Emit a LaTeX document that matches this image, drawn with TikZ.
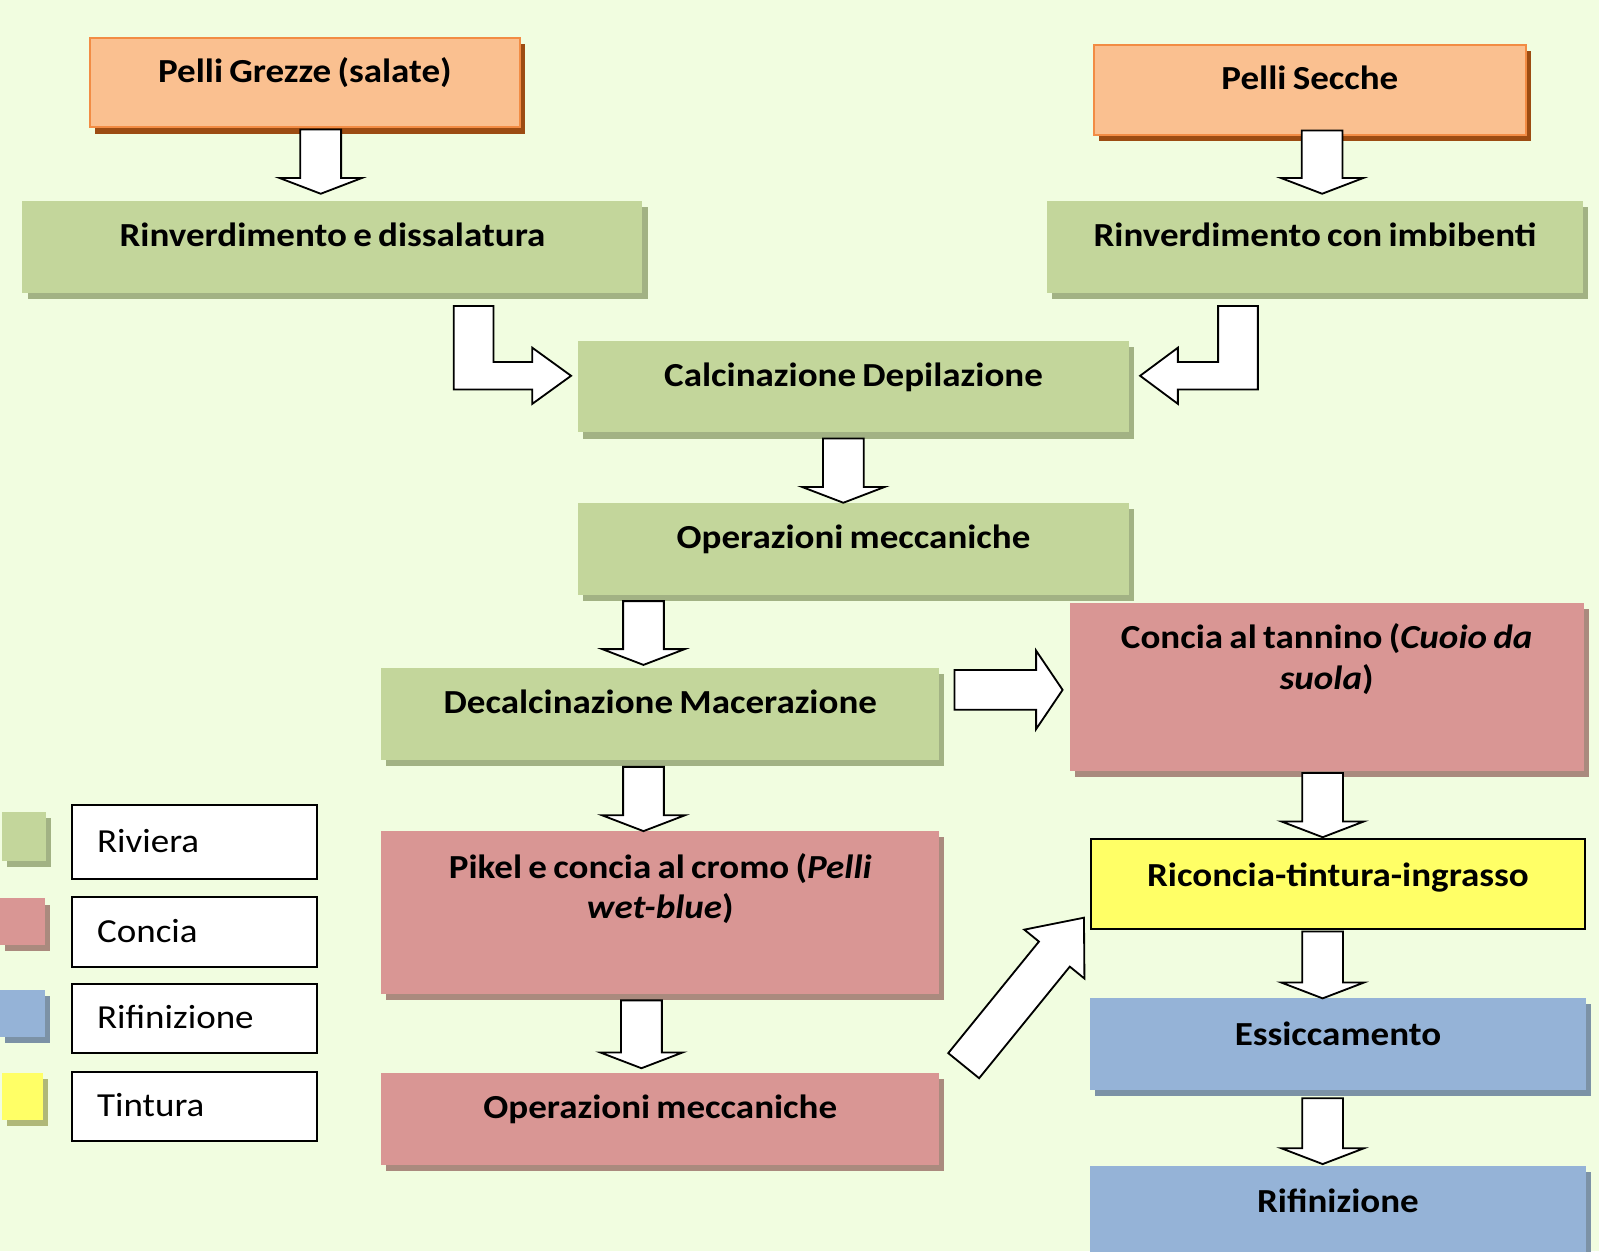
\documentclass[tikz,border=0pt]{standalone}
\usepackage{fontspec}
\setmainfont{Carlito}[FakeStretch=1.1, WordSpace=0.75]
\usetikzlibrary{calc,shadows}
\definecolor{bg}{RGB}{241,253,224}
\definecolor{cgreen}{RGB}{195,214,155}
\definecolor{sgreen}{RGB}{162,178,132}
\definecolor{cpink}{RGB}{217,150,148}
\definecolor{spink}{RGB}{170,138,126}
\definecolor{cblue}{RGB}{149,179,215}
\definecolor{sblue}{RGB}{124,146,166}
\definecolor{corange}{RGB}{250,192,144}
\definecolor{borange}{RGB}{242,140,68}
\definecolor{sorange}{RGB}{156,76,18}
\definecolor{cyellow}{RGB}{255,255,102}
\definecolor{syellow}{RGB}{176,184,120}
\tikzset{
  box/.style={rectangle, inner sep=0pt, outer sep=0pt, anchor=north west},
  greenbox/.style={box, fill=cgreen, general shadow={fill=sgreen, shadow xshift=5pt, shadow yshift=-6pt}},
  pinkbox/.style={box, fill=cpink, general shadow={fill=spink, shadow xshift=5pt, shadow yshift=-6pt}},
  bluebox/.style={box, fill=cblue, general shadow={fill=sblue, shadow xshift=5pt, shadow yshift=-6pt}},
  orangebox/.style={box, fill=corange, draw=borange, line width=2pt, general shadow={fill=sorange, shadow xshift=5pt, shadow yshift=-6pt}},
  yellowbox/.style={box, fill=cyellow, draw=black, line width=2pt},
  yellowsq/.style={box, fill=cyellow, general shadow={fill=syellow, shadow xshift=5pt, shadow yshift=-6pt}},
  legbox/.style={box, fill=white, draw=black, line width=2pt},
  lbl/.style={font=\bfseries\fontsize{33}{40}\selectfont, align=center, anchor=base, inner sep=0pt},
  legtext/.style={font=\fontsize{33}{40}\selectfont, anchor=base west, inner sep=0pt},
  blockarrow/.style={draw=black, fill=white, line width=1.8pt, line join=miter},
}
\newcommand\pbox[6]{\node[#2, minimum width=#5pt, minimum height=#6pt] (#1) at (#3,#4) {};}
\newcommand\dnarrow[5]{%
  \draw[blockarrow]
   ($(#2.south -| #1,0)+(-20,#4)$) --
   ($(#2.south -| #1,0)+(20,#4)$) --
   ($(#3.north -| #1,0)+(20,-#5-15.5)$) --
   ($(#3.north -| #1,0)+(40.5,-#5-15.5)$) --
   ($(#3.north -| #1,0)+(0,-#5)$) --
   ($(#3.north -| #1,0)+(-40.5,-#5-15.5)$) --
   ($(#3.north -| #1,0)+(-20,-#5-15.5)$) -- cycle;}
\begin{document}
\begin{tikzpicture}[x=1pt,y=-1pt]
\useasboundingbox (0,0) rectangle (1568,1227);
\clip (0,0) rectangle (1568,1227);
\fill[bg] (0,0) rectangle (1568,1227);

% process boxes
\pbox{pg}{orangebox}{88}{37}{422}{88}
\pbox{ps}{orangebox}{1073}{44}{423}{88}
\pbox{rd}{greenbox}{22}{197}{608}{90}
\pbox{ri}{greenbox}{1027}{197}{525}{90}
\pbox{cd}{greenbox}{567}{334}{540}{90}
\pbox{om1}{greenbox}{567}{493}{540}{90}
\pbox{dm}{greenbox}{374}{655}{547}{90}
\pbox{ct}{pinkbox}{1049}{591}{504}{165}
\pbox{pk}{pinkbox}{374}{815}{547}{160}
\pbox{om2}{pinkbox}{374}{1052}{547}{90}
\pbox{rc}{yellowbox}{1070}{823}{484}{88}
\pbox{es}{bluebox}{1069}{979}{486}{90}
\pbox{rf}{bluebox}{1069}{1143}{486}{120}

% labels
\node[lbl] (pg-t) at ($(pg.north)+(0,44)$) {Pelli Grezze (salate)};
\node[lbl] (ps-t) at ($(ps.north)+(0,44)$) {Pelli Secche};
\node[lbl] (rd-t) at ($(rd.north)+(0,45)$) {Rinverdimento e dissalatura};
\node[lbl] (ri-t) at ($(ri.north)+(0,45)$) {Rinverdimento con imbibenti};
\node[lbl] (cd-t) at ($(cd.north)+(0,45)$) {Calcinazione Depilazione};
\node[lbl] (om1-t) at ($(om1.north)+(0,45)$) {Operazioni meccaniche};
\node[lbl] (dm-t) at ($(dm.north)+(0,45)$) {Decalcinazione Macerazione};
\node[lbl] (ct-t) at ($(ct.north)+(0,85)$) {Concia al tannino (\textit{Cuoio da}\\\textit{suola})};
\node[lbl] (pk-t) at ($(pk.north)+(0,86)$) {Pikel e concia al cromo (\textit{Pelli}\\\textit{wet-blue})};
\node[lbl] (om2-t) at ($(om2.north)+(0,45)$) {Operazioni meccaniche};
\node[lbl] (rc-t) at ($(rc.north)+(0,46)$) {Riconcia-tintura-ingrasso};
\node[lbl] (es-t) at ($(es.north)+(0,46)$) {Essiccamento};
\node[lbl] (rf-t) at ($(rf.north)+(0,46)$) {Rifinizione};

% legend
\pbox{sq1}{greenbox}{2}{796}{43}{48}
\pbox{sq2}{pinkbox}{0}{881}{44}{46}
\pbox{sq3}{bluebox}{0}{971}{44}{46}
\pbox{sq4}{yellowsq}{2}{1052}{40}{46}
\pbox{lb1}{legbox}{71}{789}{240}{73}
\pbox{lb2}{legbox}{71}{880}{240}{68}
\pbox{lb3}{legbox}{71}{965}{240}{68}
\pbox{lb4}{legbox}{71}{1051}{240}{68}
\node[legtext] (lb1-t) at ($(lb1.west)+(24,10)$) {Riviera};
\node[legtext] (lb2-t) at ($(lb2.west)+(24,10)$) {Concia};
\node[legtext] (lb3-t) at ($(lb3.west)+(24,10)$) {Rifinizione};
\node[legtext] (lb4-t) at ($(lb4.west)+(24,10)$) {Tintura};

% straight down arrows
\dnarrow{314.5}{pg}{rd}{2}{7}
\dnarrow{1296.5}{ps}{ri}{-4}{7}
\dnarrow{827}{cd}{om1}{6}{0}
\dnarrow{631}{om1}{dm}{6.5}{3}
\dnarrow{631}{dm}{pk}{7}{0}
\dnarrow{1297}{ct}{rc}{2}{2}
\dnarrow{1297}{rc}{es}{2.5}{0}
\dnarrow{1297}{es}{rf}{8}{1.5}
\dnarrow{629}{pk}{om2}{6}{4.5}

% elbow arrow left
\coordinate (e1s) at ($(rd.south -| 464.5,0)+(0,13)$);
\coordinate (e1t) at ($(cd.west)+(-7,-10.5)$);
\draw[blockarrow] ($(e1s)+(-19.5,0)$) -- ($(e1s)+(19.5,0)$) -- ($(e1s |- e1t)+(19.5,-13.5)$)
  -- ($(e1t)+(-38,-13.5)$) -- ($(e1t)+(-38,-27.5)$) -- (e1t) -- ($(e1t)+(-38,27.5)$)
  -- ($(e1t)+(-38,13.5)$) -- ($(e1s |- e1t)+(-19.5,13.5)$) -- cycle;

% elbow arrow right
\coordinate (e2s) at ($(ri.south -| 1214,0)+(0,13)$);
\coordinate (e2t) at ($(cd.east)+(11,-10.5)$);
\draw[blockarrow] ($(e2s)+(19.5,0)$) -- ($(e2s)+(-19.5,0)$) -- ($(e2s |- e2t)+(-19.5,-13.5)$)
  -- ($(e2t)+(37,-13.5)$) -- ($(e2t)+(37,-27.5)$) -- (e2t) -- ($(e2t)+(37,27.5)$)
  -- ($(e2t)+(37,13.5)$) -- ($(e2s |- e2t)+(19.5,13.5)$) -- cycle;

% right arrow dm -> ct
\coordinate (r1s) at ($(dm.east)+(15,-23.5)$);
\coordinate (r1t) at ($(ct.west)+(-7,0)$);
\draw[blockarrow] ($(r1s)+(0,-19.5)$) -- ($(r1s -| r1t)+(-26,-19.5)$) -- ($(r1s -| r1t)+(-26,-38.5)$)
  -- (r1s -| r1t) -- ($(r1s -| r1t)+(-26,38.5)$) -- ($(r1s -| r1t)+(-26,19.5)$)
  -- ($(r1s)+(0,19.5)$) -- cycle;

% diagonal arrow om2 -> rc
\coordinate (dgs) at ($(om2.north east)+(24,-7)$);
\begin{scope}[shift={(dgs)}, rotate=50.9]
\draw[blockarrow] (0,-19.5) -- (141,-19.5) -- (141,-38) -- (187,0) -- (141,38) -- (141,19.5) -- (0,19.5) -- cycle;
\end{scope}
\end{tikzpicture}
\end{document}
